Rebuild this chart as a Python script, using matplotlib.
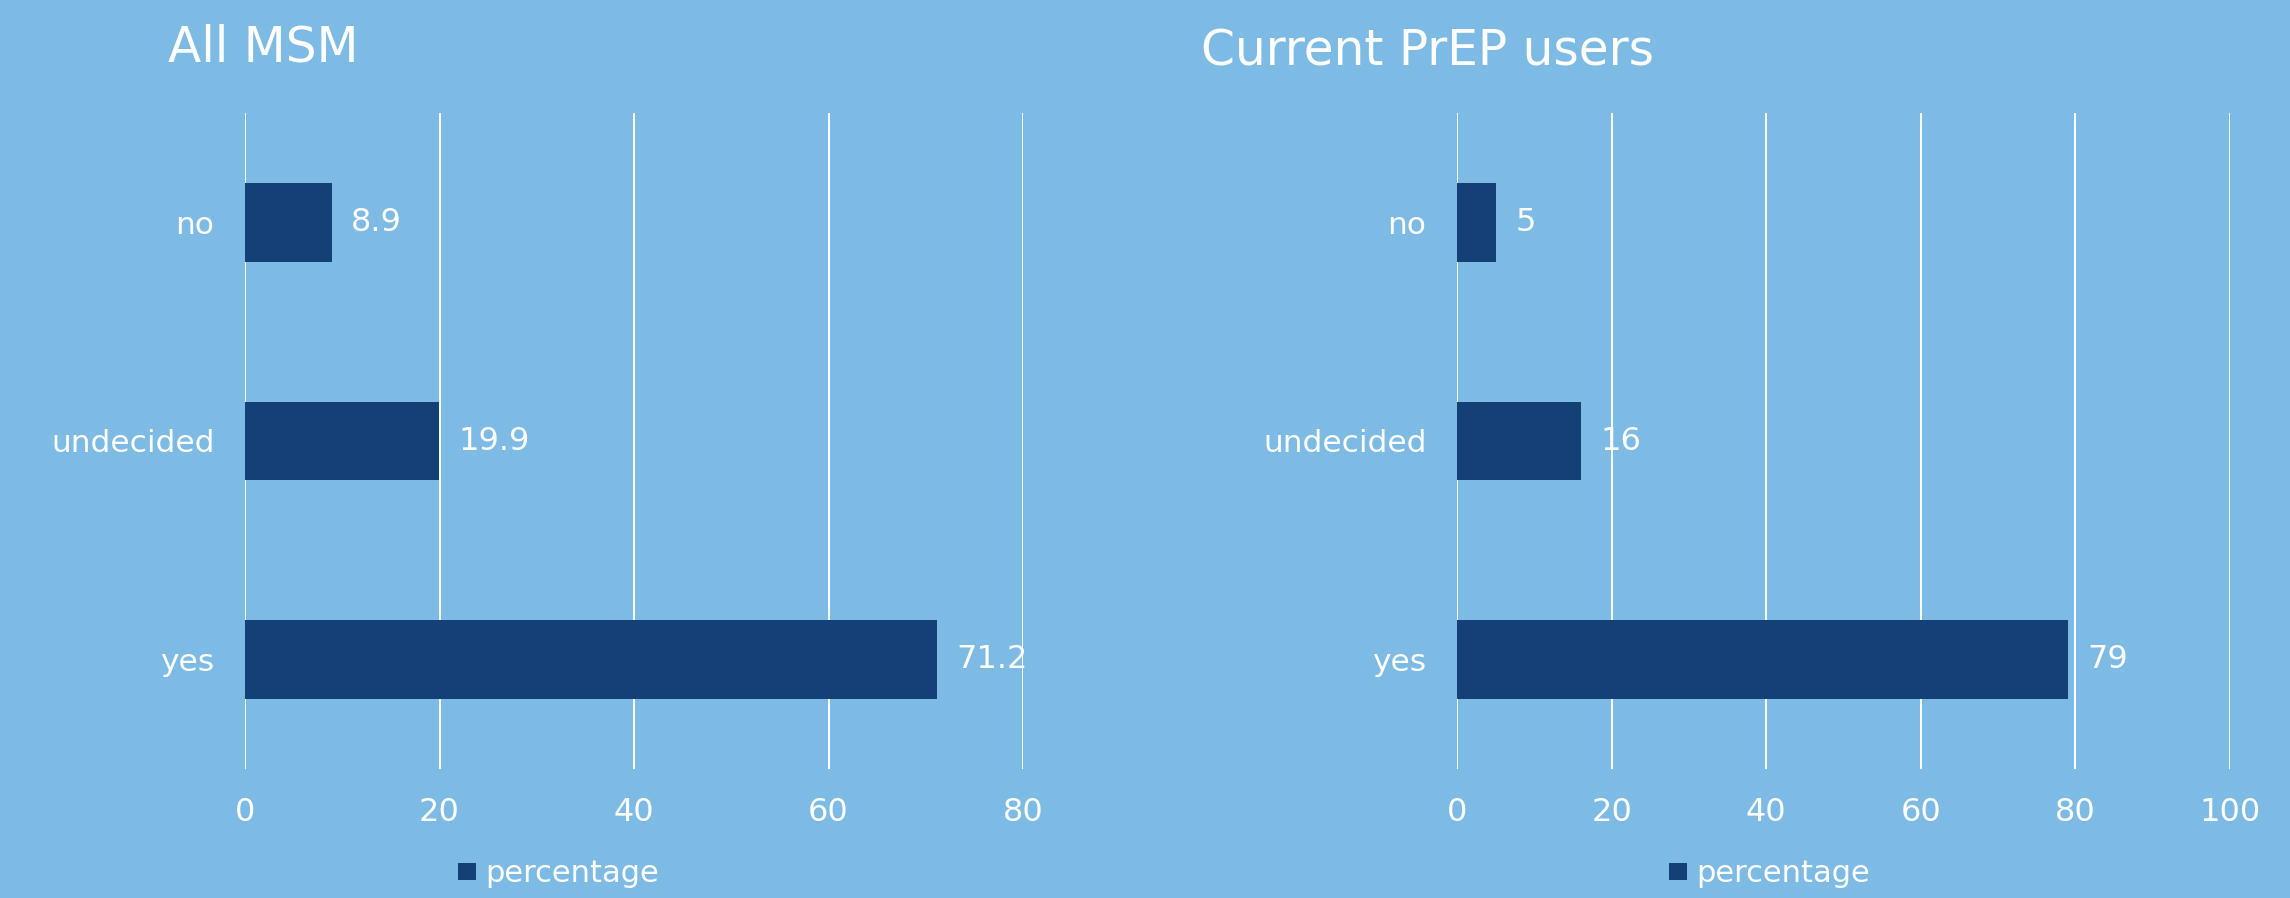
import matplotlib
matplotlib.use('Agg')
import matplotlib.pyplot as plt

# data to plot
categories = ['yes', 'undecided', 'no']
all_msm = [71.2, 19.9, 8.9]
prep_users = [79, 16, 5]
value_labels_msm = ['71.2', '19.9', '8.9']
value_labels_prep = ['79', '16', '5']

bg_color = '#7dbbe4'
bar_color = '#143f77'

plt.rcParams['font.family'] = 'DejaVu Sans'
plt.rcParams['text.color'] = 'white'

fig = plt.figure(figsize=(22.9, 8.98), dpi=100)
fig.patch.set_facecolor(bg_color)

ax1 = fig.add_axes([245 / 2290, 1 - 769 / 898, 778 / 2290, 656 / 898])
ax2 = fig.add_axes([1457 / 2290, 1 - 769 / 898, 773 / 2290, 656 / 898])


def draw_panel(ax, values, labels, xmax, title, title_xy, legend_xy):
    ax.set_facecolor('none')
    bars = ax.barh(categories, values, height=0.36, color=bar_color, label='percentage', zorder=3)
    ax.bar_label(bars, labels=labels, padding=14, color='white', fontsize=23)

    ax.set_xlim(0, xmax)
    ax.set_ylim(-0.5, 2.5)
    ax.set_xticks(range(0, xmax + 1, 20))
    ax.grid(axis='x', color='white', linewidth=1.4, zorder=0)
    for side in ['top', 'right', 'bottom', 'left']:
        ax.spines[side].set_visible(False)
    ax.tick_params(axis='x', length=0, pad=20, labelsize=23, labelcolor='white')
    ax.tick_params(axis='y', length=0, pad=22, labelsize=22.5, labelcolor='white')

    fig.text(title_xy[0] / 2290, 1 - title_xy[1] / 898, title, fontsize=35,
             color='white', ha='left', va='baseline')

    ax.legend(handles=[bars], loc='center left',
              bbox_to_anchor=(legend_xy[0] / 2290, 1 - legend_xy[1] / 898),
              bbox_transform=fig.transFigure, frameon=False, fontsize=22,
              handlelength=0.6, handleheight=0.5, handletextpad=0.3,
              borderpad=0, borderaxespad=0, labelcolor='white')


draw_panel(ax1, all_msm, value_labels_msm, 80, 'All MSM', (168, 62), (458, 874))
draw_panel(ax2, prep_users, value_labels_prep, 100, 'Current PrEP users', (1201, 65), (1669, 874))

fig.savefig('out.png', dpi=100, facecolor=fig.get_facecolor())
